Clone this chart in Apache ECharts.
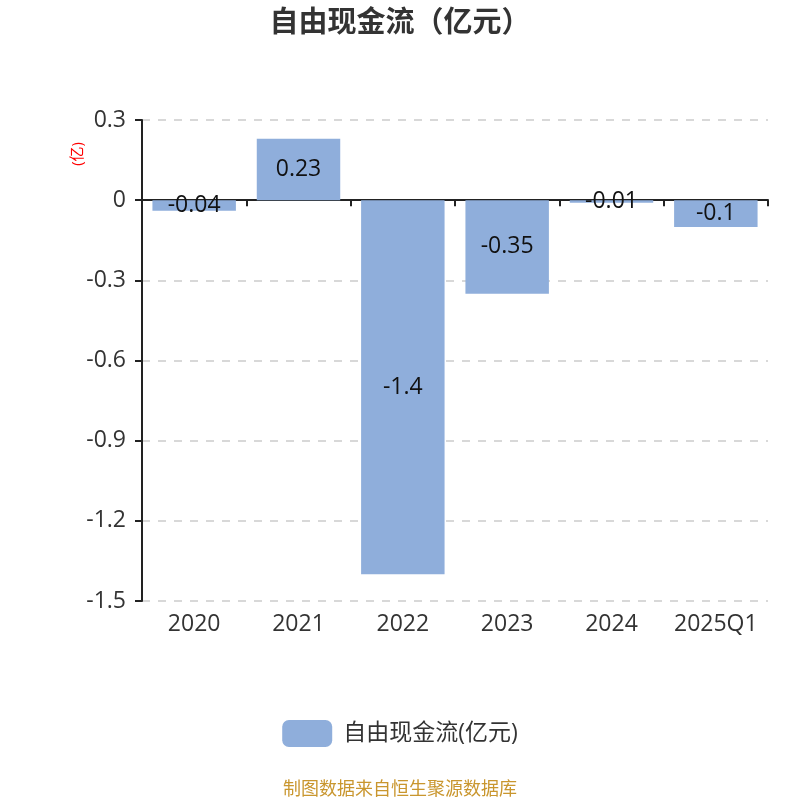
<!DOCTYPE html>
<html>
<head>
<meta charset="utf-8">
<script src="https://cdn.jsdelivr.net/npm/echarts@6/dist/echarts.min.js"></script>
<style>
html, body { margin: 0; padding: 0; background: #fff; }
#container { width: 800px; height: 800px; }
</style>
</head>
<body>
<div id="container"></div>
<script>
var dom = document.getElementById("container");
var myChart = echarts.init(dom);

var years = ['2020', '2021', '2022', '2023', '2024', '2025Q1'];
var cashFlow = [-0.04, 0.23, -1.4, -0.35, -0.01, -0.1];
var seriesName = '自由现金流(亿元)';

var font = '"Open Sans", "Noto Sans CJK SC", sans-serif';

var option = {
    animation: false,
    textStyle: { fontFamily: font },
    title: {
        text: '自由现金流（亿元）',
        left: 'center',
        top: 4,
        textStyle: { fontSize: 29, fontWeight: 'bold', color: '#333', fontFamily: font }
    },
    legend: {
        bottom: 48,
        left: 'center',
        itemWidth: 50,
        itemHeight: 27,
        icon: 'roundRect',
        textStyle: { fontSize: 23, color: '#333', fontFamily: font, padding: [0, 0, 0, 6] },
        data: [seriesName]
    },
    grid: {
        left: 142,
        right: 32,
        top: 120,
        bottom: 199
    },
    xAxis: [{
        type: 'category',
        data: years,
        position: 'bottom',
        axisLine: { show: false, onZero: false },
        axisTick: { show: false },
        axisLabel: { fontSize: 23, color: '#333', margin: 12, interval: 0 }
    }, {
        type: 'category',
        data: years,
        position: 'bottom',
        axisLine: { show: true, onZero: true, lineStyle: { color: '#222', width: 2 } },
        axisTick: { show: true, length: 6, lineStyle: { color: '#222', width: 2 } },
        axisLabel: { show: false }
    }],
    yAxis: {
        type: 'value',
        min: -1.5,
        max: 0.3,
        interval: 0.3,
        axisLine: { show: true, lineStyle: { color: '#222', width: 2 } },
        axisTick: { show: true, length: 7, lineStyle: { color: '#222', width: 2 } },
        axisLabel: {
            fontSize: 23,
            color: '#333',
            margin: 16,
            formatter: function (v) { return String(parseFloat(v.toFixed(2))); }
        },
        splitLine: { show: true, lineStyle: { type: [8, 8], color: '#ccc', width: 1.5 } }
    },
    graphic: [{
        type: 'text',
        left: 70,
        top: 142,
        rotation: Math.PI / 2,
        style: { text: '(亿)', fill: 'red', fontSize: 15, fontFamily: font }
    }, {
        type: 'text',
        left: 'center',
        bottom: 1,
        style: { text: '制图数据来自恒生聚源数据库', fill: '#c9962e', fontSize: 18, fontFamily: font }
    }],
    series: [{
        name: seriesName,
        type: 'bar',
        data: cashFlow,
        barWidth: '80%',
        itemStyle: { color: '#8FAEDB' },
        label: {
            show: true,
            position: 'inside',
            color: '#111',
            fontSize: 23,
            fontFamily: font
        }
    }]
};

myChart.setOption(option);
</script>
</body>
</html>
